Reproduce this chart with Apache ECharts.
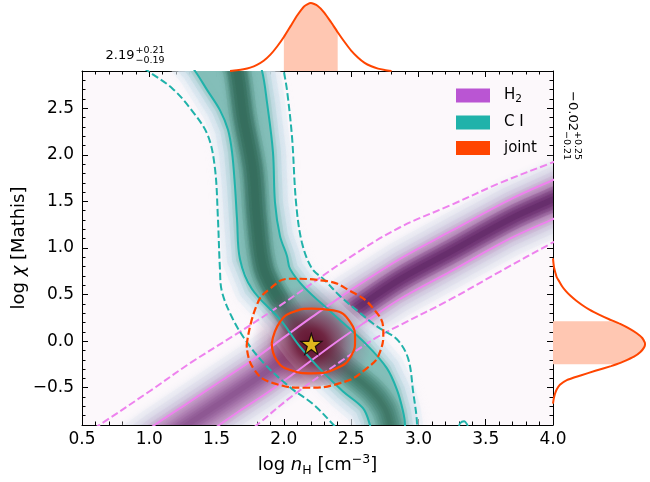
<!DOCTYPE html>
<html><head><meta charset="utf-8">
<script src="https://cdn.jsdelivr.net/npm/echarts@6/dist/echarts.min.js"></script>
<style>html,body{margin:0;padding:0;background:#fff}#c{width:650px;height:482px}</style>
</head><body><div id="c"></div>
<script>
// ---------- data ----------
const xTickValues = [0.5, 1.0, 1.5, 2.0, 2.5, 3.0, 3.5, 4.0];
const yTickValues = [-0.5, 0.0, 0.5, 1.0, 1.5, 2.0, 2.5];
const yMinorTickValues = [-0.8,-0.7,-0.6,-0.4,-0.3,-0.2,-0.1,0.1,0.2,0.3,0.4,0.6,0.7,0.8,0.9,1.1,1.2,1.3,1.4,1.6,1.7,1.8,1.9,2.1,2.2,2.3,2.4,2.6,2.7,2.8];

// H2 posterior: ridge and 1-sigma / 2-sigma contours  [log nH, log chi]
const h2Ridge = [[1.10,-1.08],[1.28,-0.90],[1.50,-0.69],[1.80,-0.40],[2.00,-0.19],[2.21,0.03],[2.50,0.31],[2.86,0.66],[3.24,0.96],[3.68,1.31],[4.00,1.52],[4.10,1.58]];
const h2RidgeCore = [[2.21,0.03],[2.50,0.31],[2.86,0.66],[3.24,0.96],[3.68,1.31],[4.00,1.52],[4.10,1.58]];
const h2Upper1 = [[0.90,-1.05],[1.04,-0.90],[1.28,-0.67],[1.54,-0.42],[1.80,-0.17],[2.00,0.04],[2.21,0.26],[2.50,0.55],[2.86,0.88],[3.24,1.18],[3.68,1.52],[4.00,1.73],[4.10,1.79]];
const h2Lower1 = [[1.40,-1.02],[1.52,-0.90],[1.67,-0.75],[1.89,-0.54],[2.10,-0.32],[2.37,-0.03],[2.60,0.20],[2.86,0.45],[3.24,0.75],[3.68,1.10],[4.00,1.31],[4.10,1.37]];
const h2Upper2 = [[0.52,-1.00],[0.65,-0.88],[1.00,-0.54],[1.32,-0.22],[1.64,0.07],[1.99,0.40],[2.49,0.90],[2.86,1.22],[3.24,1.46],[3.61,1.70],[4.00,1.92],[4.10,1.97]];
const h2Lower2 = [[1.72,-1.00],[1.80,-0.90],[2.07,-0.58],[2.42,-0.22],[2.69,0.04],[2.86,0.17],[3.24,0.45],[3.61,0.75],[4.00,1.06],[4.10,1.13]];

// C I posterior
const ciRidge = [[1.62,3.0],[1.652,2.9],[1.70,2.4],[1.77,1.85],[1.80,1.3],[1.85,0.78],[1.96,0.46],[2.17,0.06],[2.45,-0.29],[2.655,-0.536],[2.75,-0.72],[2.79,-0.9],[2.80,-1.0]];
const ciRidgeCore = [[1.62,3.0],[1.652,2.9],[1.70,2.4],[1.77,1.85],[1.80,1.3],[1.85,0.78],[1.96,0.46]];
const ciLeft1 = [[1.28,3.0],[1.34,2.9],[1.428,2.70],[1.525,2.48],[1.585,2.27],[1.615,2.03],[1.637,1.66],[1.652,1.31],[1.674,0.88],[1.763,0.56],[1.979,0.22],[2.12,-0.06],[2.269,-0.30],[2.44,-0.54],[2.588,-0.72],[2.64,-0.9],[2.65,-1.0]];
const ciRight1 = [[1.80,3.0],[1.838,2.9],[1.875,2.56],[1.919,2.03],[1.934,1.49],[1.971,1.13],[2.023,0.915],[2.046,0.776],[2.15,0.58],[2.36,0.30],[2.62,-0.045],[2.765,-0.29],[2.84,-0.52],[2.885,-0.75],[2.90,-0.9],[2.90,-1.0]];
const ciLeft2 = [[0.89,3.0],[0.99,2.9],[1.175,2.708],[1.324,2.462],[1.436,2.206],[1.488,1.854],[1.510,1.32],[1.525,0.776],[1.54,0.53],[1.62,0.24],[1.72,0.0],[1.86,-0.25],[2.05,-0.50],[2.22,-0.68],[2.37,-0.90],[2.42,-0.98]];
const ciRight2 = [[1.99,3.0],[2.0,2.9],[2.024,2.687],[2.061,2.185],[2.091,1.48],[2.135,1.053],[2.209,0.78],[2.30,0.66],[2.42,0.48],[2.56,0.31],[2.70,0.15],[2.84,0.02],[2.923,-0.184],[2.96,-0.536],[2.99,-0.93],[2.99,-1.0]];
const ciIsland = [[3.30,-0.93],[3.31,-0.88],[3.34,-0.86],[3.36,-0.89],[3.37,-0.93]];

// joint posterior contours (closed rings, first point repeated)
const joint1 = [[1.910,-0.024],[1.971,0.207],[2.070,0.314],[2.207,0.349],[2.367,0.331],[2.492,0.207],[2.529,0.011],[2.504,-0.149],[2.393,-0.291],[2.207,-0.345],[2.046,-0.31],[1.947,-0.205],[1.910,-0.024]];
const joint2 = [[1.724,-0.042],[1.798,0.385],[1.897,0.563],[2.046,0.670],[2.293,0.650],[2.492,0.540],[2.665,0.349],[2.739,0.101],[2.715,-0.113],[2.616,-0.291],[2.417,-0.451],[2.170,-0.50],[1.922,-0.451],[1.773,-0.291],[1.724,-0.042]];
const bestFit = [[2.204,-0.03]];

// marginals
const nHMarginal = [[1.60,0],[1.65,0.01],[1.70,0.025],[1.75,0.05],[1.80,0.09],[1.85,0.15],[1.90,0.24],[1.95,0.36],[2.00,0.50],[2.05,0.66],[2.10,0.82],[2.15,0.95],[2.20,1.0],[2.25,0.96],[2.30,0.86],[2.35,0.72],[2.40,0.57],[2.45,0.43],[2.50,0.30],[2.55,0.20],[2.60,0.12],[2.65,0.07],[2.70,0.035],[2.75,0.015],[2.80,0]];
const nHInterval = [2.00, 2.40];
const chiMarginal = [[0,0.90],[0.005,0.85],[0.012,0.80],[0.025,0.75],[0.04,0.70],[0.07,0.65],[0.10,0.60],[0.14,0.55],[0.19,0.50],[0.25,0.45],[0.32,0.40],[0.40,0.35],[0.50,0.30],[0.61,0.25],[0.66,0.23],[0.73,0.20],[0.83,0.15],[0.91,0.10],[0.97,0.05],[0.998,0.00],[1.0,-0.02],[0.99,-0.05],[0.95,-0.10],[0.88,-0.15],[0.77,-0.20],[0.69,-0.23],[0.63,-0.25],[0.46,-0.30],[0.30,-0.35],[0.15,-0.40],[0.075,-0.45],[0.04,-0.50],[0.02,-0.55],[0.008,-0.60],[0,-0.65]];
const chiInterval = [-0.23, 0.23];

const nHStats = ['2.19', '+0.21', '\u22120.19'];
const chiStats = ['\u22120.02', '+0.25', '\u22120.21'];
const legendNames = ['H2', 'C I', 'joint'];
const legendColors = ['#BA55D3', '#20B2AA', '#FF4500'];

// ---------- chart ----------
const FONT = 'DejaVu Sans';
const chart = echarts.init(document.getElementById('c'));
const fmt = v => (v < 0 ? '\u2212' : '') + Math.abs(v).toFixed(1);

function band(a, b) { return a.concat(b.slice().reverse()); }

// density band: soft layered strokes around the 1-sigma region and along its ridge
function densitySeries(name, color, poly, glow, fill, ridges) {
  return {
    type: 'custom', name: name, itemStyle: {color: color}, xAxisIndex: 0, yAxisIndex: 0, z: 1, clip: true, silent: true,
    data: [[2, 1]],
    renderItem: function (params, api) {
      const pp = poly.map(p => api.coord(p));
      const children = [];
      glow.forEach(g => children.push({type: 'polygon', shape: {points: pp},
        style: {fill: 'none', stroke: g[1], lineWidth: g[0], lineJoin: 'round', shadowBlur: 8, shadowColor: g[1]}}));
      children.push({type: 'polygon', shape: {points: pp}, style: {fill: fill, shadowBlur: 6, shadowColor: fill}});
      ridges.forEach(r => {
        const rp = r.line.map(p => api.coord(p));
        r.layers.forEach(l => children.push({type: 'polyline', shape: {points: rp, smooth: 0.35},
          style: {fill: 'none', stroke: l[1], lineWidth: l[0], lineCap: 'round', lineJoin: 'round', shadowBlur: 5, shadowColor: l[1]}}));
      });
      return {type: 'group', children: children};
    }
  };
}
function lineSeries(data, color, width, dashed, z, name) {
  return {
    type: 'line', name: name, xAxisIndex: 0, yAxisIndex: 0, data: data, showSymbol: false, symbol: 'none', smooth: 0.35,
    z: z, silent: true, clip: true, color: color,
    lineStyle: { color: color, width: width, type: dashed ? [7.4, 3.2] : 'solid' }
  };
}

const series = [
  densitySeries('H2', '#BA55D3', band(h2Upper1, h2Lower1),
    [[36, '#efeff5'], [26, '#e3e4ee'], [16, '#d7d4e5'], [8, '#cdbfd9']],
    '#c4a0c7',
    [{line: h2Ridge, layers: [[30, '#bd97c1'], [25, '#b589b9'], [20, '#ac7cb0'], [15, '#a16fa6'], [10, '#97639c'], [5, '#8e5893']]},
     {line: h2RidgeCore, layers: [[24, 'rgba(120,60,125,0.25)'], [18, 'rgba(112,52,117,0.3)'], [12, 'rgba(104,46,109,0.4)'], [6, 'rgba(96,40,101,0.5)']]}]),
  densitySeries('C I', '#20B2AA', band(ciLeft1, ciRight1),
    [[36, 'rgba(230,238,246,0.5)'], [26, 'rgba(212,228,238,0.5)'], [16, 'rgba(190,216,226,0.55)'], [8, 'rgba(165,205,205,0.6)']],
    'rgba(128,188,182,0.85)',
    [{line: ciRidge, layers: [[28, 'rgba(112,172,162,0.7)'], [23, 'rgba(100,160,150,0.75)'], [18, 'rgba(88,148,136,0.8)'], [13, 'rgba(78,138,124,0.85)'], [8, 'rgba(70,128,112,0.85)'], [4, 'rgba(64,120,104,0.9)']]},
     {line: ciRidgeCore, layers: [[20, 'rgba(58,116,100,0.3)'], [13, 'rgba(55,112,96,0.4)'], [7, 'rgba(52,108,92,0.5)']]}]),
  // joint density
  {
    type: 'custom', xAxisIndex: 0, yAxisIndex: 0, z: 1, clip: true, silent: true, data: [[2, 1]],
    renderItem: function (params, api) {
      const c = api.coord(bestFit[0]);
      return {type: 'polygon', shape: {points: joint2.map(p => api.coord(p))},
        style: {fill: new echarts.graphic.RadialGradient(c[0], c[1], 60, [
          {offset: 0, color: 'rgba(98,14,44,0.97)'}, {offset: 0.25, color: 'rgba(112,24,56,0.9)'},
          {offset: 0.5, color: 'rgba(132,44,84,0.62)'}, {offset: 0.75, color: 'rgba(150,70,115,0.22)'},
          {offset: 1, color: 'rgba(150,70,120,0)'}], true)}};
    }
  },
  // contours
  lineSeries(h2Upper2, '#EE82EE', 2, true, 3),
  lineSeries(h2Lower2, '#EE82EE', 2, true, 3),
  lineSeries(h2Upper1, '#EE82EE', 2, false, 3),
  lineSeries(h2Lower1, '#EE82EE', 2, false, 3),
  lineSeries(ciLeft2, '#20B2AA', 2, true, 3),
  lineSeries(ciRight2, '#20B2AA', 2, true, 3),
  lineSeries(ciLeft1, '#20B2AA', 2, false, 3),
  lineSeries(ciRight1, '#20B2AA', 2, false, 3),
  lineSeries(ciIsland, '#20B2AA', 1.8, false, 3),
  Object.assign(lineSeries(joint2, '#FF4500', 2.2, true, 4), {smooth: 0.5}),
  Object.assign(lineSeries(joint1, '#FF4500', 2.2, false, 4, 'joint'), {smooth: 0.5}),
  {
    type: 'scatter', xAxisIndex: 0, yAxisIndex: 0, data: bestFit, z: 6, silent: true,
    symbol: 'path://M50,0 L61.8,36.3 L100,36.3 L69.1,58.8 L80.9,95.1 L50,72.6 L19.1,95.1 L30.9,58.8 L0,36.3 L38.2,36.3 Z',
    symbolSize: 21, itemStyle: {color: '#FFE11A', borderColor: '#000', borderWidth: 1.2}
  },
  // n_H marginal (top)
  {
    type: 'custom', xAxisIndex: 2, yAxisIndex: 4, z: 2, silent: true, data: [[2, 0.5]],
    renderItem: function (params, api) {
      const pts = nHMarginal.filter(p => p[0] >= nHInterval[0] && p[0] <= nHInterval[1]);
      const poly = [[nHInterval[0], 0]].concat(pts, [[nHInterval[1], 0]]);
      return {type: 'polygon', shape: {points: poly.map(p => api.coord(p))}, style: {fill: '#FFC7B2'}};
    }
  },
  { type: 'line', xAxisIndex: 2, yAxisIndex: 4, data: nHMarginal, showSymbol: false, symbol: 'none', clip: false, z: 3, silent: true,
    smooth: 0.2, lineStyle: {color: '#FF4500', width: 2} },
  // chi marginal (right)
  {
    type: 'custom', xAxisIndex: 3, yAxisIndex: 5, z: 2, silent: true, data: [[0.5, 0]],
    renderItem: function (params, api) {
      const pts = chiMarginal.filter(p => p[1] >= chiInterval[0] && p[1] <= chiInterval[1]);
      const poly = [[0, chiInterval[1]]].concat(pts, [[0, chiInterval[0]]]);
      return {type: 'polygon', shape: {points: poly.map(p => api.coord(p))}, style: {fill: '#FFC7B2'}};
    }
  },
  { type: 'line', xAxisIndex: 3, yAxisIndex: 5, data: chiMarginal, showSymbol: false, symbol: 'none', clip: false, z: 3, silent: true,
    smooth: 0.2, lineStyle: {color: '#FF4500', width: 2} }
];

const axisLineStyle = {show: true, onZero: false, lineStyle: {color: '#000', width: 1}};
const labelStyle = {color: '#000', fontFamily: FONT, fontSize: 17};
function mainX(pos, showLabel) {
  return {
    gridIndex: 0, type: 'value', position: pos, offset: 0, min: 0.5, max: 4.0, interval: 0.5,
    axisLine: axisLineStyle,
    axisTick: {show: true, inside: true, length: 6, lineStyle: {color: '#000', width: 1}},
    minorTick: {show: true, splitNumber: 5, length: 3.5, lineStyle: {color: '#000', width: 1}},
    axisLabel: Object.assign({show: showLabel, margin: 6, formatter: v => fmt(v)}, labelStyle),
    splitLine: {show: false}, minorSplitLine: {show: false}
  };
}
function mainY(pos, values, len, showLabel, showLine, margin) {
  return {
    gridIndex: 0, type: 'value', position: pos, offset: 0, min: -0.9, max: 2.9,
    axisLine: Object.assign({}, axisLineStyle, {show: showLine}),
    axisTick: {show: true, inside: true, length: len, customValues: values, lineStyle: {color: '#000', width: 1}},
    axisLabel: Object.assign({show: showLabel, margin: margin, customValues: values, formatter: v => fmt(v)}, labelStyle),
    splitLine: {show: false}
  };
}

const xMain = mainX('bottom', true);
xMain.name = '{r|log }{i|n}{s|H}{r| [cm}{p|\u22123}{r|]}';
xMain.nameLocation = 'middle';
xMain.nameGap = 28;
xMain.nameTextStyle = {rich: {
  r: {fontFamily: FONT, fontSize: 18, color: '#000', lineHeight: 24},
  i: {fontFamily: FONT, fontSize: 18, fontStyle: 'italic', color: '#000', lineHeight: 24},
  s: {fontFamily: FONT, fontSize: 12.5, color: '#000', verticalAlign: 'bottom', lineHeight: 14},
  p: {fontFamily: FONT, fontSize: 12.5, color: '#000', verticalAlign: 'top', lineHeight: 14}
}};

const yMain = mainY('left', yTickValues, 6, true, true, 8);
yMain.name = '{r|log }{i|\u03c7}{r| [Mathis]}';
yMain.nameLocation = 'middle';
yMain.nameGap = 54;
yMain.nameMoveOverlap = false;
yMain.nameTextStyle = {rich: {
  r: {fontFamily: FONT, fontSize: 18, color: '#000'},
  i: {fontFamily: FONT, fontSize: 18, fontStyle: 'italic', color: '#000'}
}};

const option = {
  animation: false,
  backgroundColor: '#fff',
  grid: [
    {left: 82, top: 71, width: 471, height: 356, show: true, backgroundColor: '#fcf8fb', borderWidth: 0},
    {left: 82, top: 0, width: 471, height: 71, show: false},
    {left: 553, top: 71, width: 97, height: 356, show: false}
  ],
  xAxis: [
    xMain,
    mainX('top', false),
    {gridIndex: 1, type: 'value', min: 0.5, max: 4.0, show: false},
    {gridIndex: 2, type: 'value', min: 0, max: 1.054, show: false}
  ],
  yAxis: [
    yMain,
    mainY('left', yMinorTickValues, 3.5, false, false, 8),
    mainY('right', yTickValues, 6, false, true, 8),
    mainY('right', yMinorTickValues, 3.5, false, false, 8),
    {gridIndex: 1, type: 'value', min: 0, max: 1.044, show: false},
    {gridIndex: 2, type: 'value', min: -0.9, max: 2.9, show: false}
  ],
  legend: {
    left: 456, top: 88, orient: 'vertical', itemWidth: 34, itemHeight: 14, itemGap: 10.5, icon: 'rect',
    selectedMode: false, padding: 0,
    data: legendNames.map((n, i) => ({name: n, itemStyle: {color: legendColors[i], borderWidth: 0}})),
    formatter: n => n === 'H2' ? '{m|H}{s|2}' : '{m|' + n + '}',
    textStyle: {padding: [0, 0, 0, 9], rich: {
      m: {fontFamily: FONT, fontSize: 15, color: '#000', lineHeight: 18},
      s: {fontFamily: FONT, fontSize: 10.5, color: '#000', verticalAlign: 'bottom', lineHeight: 12}
    }}
  },
  graphic: [
    {type: 'text', x: 120, y: 55.5, style: {text: nHStats[0], font: '13px "DejaVu Sans"', fill: '#000', align: 'center', verticalAlign: 'middle'}},
    {type: 'text', x: 135.5, y: 51, style: {text: nHStats[1], font: '9.5px "DejaVu Sans"', fill: '#000', align: 'left', verticalAlign: 'middle'}},
    {type: 'text', x: 135.5, y: 60.5, style: {text: nHStats[2], font: '9.5px "DejaVu Sans"', fill: '#000', align: 'left', verticalAlign: 'middle'}},
    {type: 'text', x: 572, y: 111, rotation: -Math.PI / 2, style: {text: chiStats[0], font: '13px "DejaVu Sans"', fill: '#000', align: 'center', verticalAlign: 'middle'}},
    {type: 'text', x: 577, y: 131, rotation: -Math.PI / 2, style: {text: chiStats[1], font: '9.5px "DejaVu Sans"', fill: '#000', align: 'left', verticalAlign: 'middle'}},
    {type: 'text', x: 566.5, y: 131, rotation: -Math.PI / 2, style: {text: chiStats[2], font: '9.5px "DejaVu Sans"', fill: '#000', align: 'left', verticalAlign: 'middle'}}
  ],
  series: series
};
chart.setOption(option);
</script></body></html>
